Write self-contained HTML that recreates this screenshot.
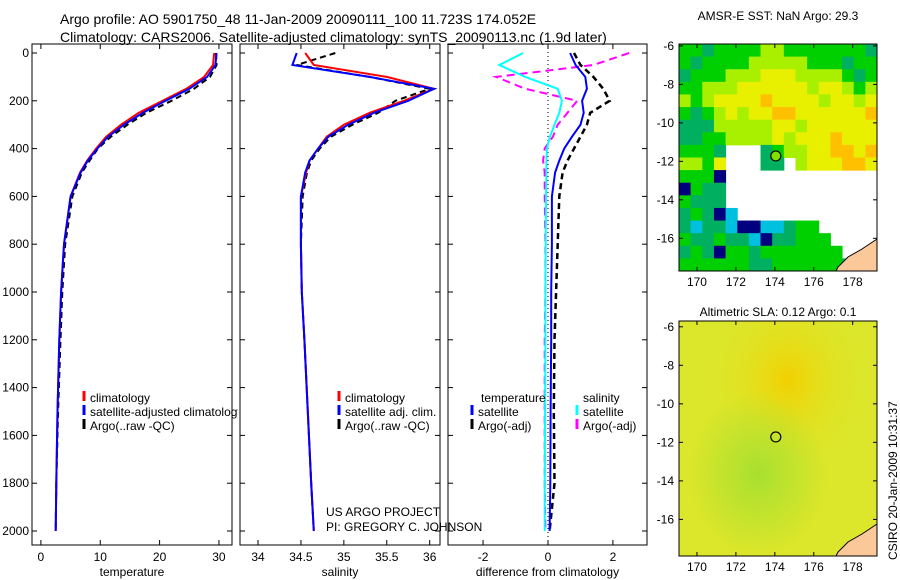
<!DOCTYPE html>
<html><head><meta charset="utf-8"><style>
body{margin:0;background:#fff;}
svg{display:block;font-family:"Liberation Sans",Arial,sans-serif;}
</style></head><body>
<svg id="fig" width="900" height="580" viewBox="0 0 900 580">
<rect width="900" height="580" fill="#fff"/>
<text x="60" y="24" font-size="14">Argo profile: AO 5901750_48 11-Jan-2009 20090111_100 11.723S 174.052E</text>
<text x="60" y="42" font-size="14">Climatology: CARS2006. Satellite-adjusted climatology: synTS_20090113.nc (1.9d later)</text>
<text x="778" y="20" font-size="12" text-anchor="middle">AMSR-E SST: NaN Argo: 29.3</text>
<text x="778" y="316" font-size="12" text-anchor="middle">Altimetric SLA: 0.12 Argo: 0.1</text>
<text transform="translate(897,560) rotate(-90)" font-size="12">CSIRO 20-Jan-2009 10:31:37</text>
<g id="plots"></g>
</svg>
<script>
// ---- profile data (depth in m) ----
const depths = [0,50,100,150,200,250,300,350,400,450,500,600,800,1000,1200,1500,1800,2000];
const tempClim = [29.2,29.0,27.5,24.5,20.5,16.5,13.5,11.0,9.3,7.8,6.6,5.0,3.9,3.4,3.1,2.8,2.6,2.5];
const tempSat  = [29.6,29.4,28.0,25.0,21.0,17.2,14.0,11.3,9.5,7.9,6.7,5.0,3.9,3.4,3.1,2.8,2.6,2.5];
const tempArgo = [29.5,29.6,28.5,25.8,22.0,17.8,14.6,11.8,9.6,8.2,6.9,5.3,4.1,3.6,3.3,2.9,2.6,2.5];
const salClim = [34.55,34.65,35.5,36.05,35.7,35.3,35.0,34.8,34.7,34.6,34.56,34.5,34.5,34.51,34.54,34.58,34.62,34.65];
const salSat  = [34.45,34.4,35.3,36.05,35.75,35.35,35.05,34.82,34.7,34.6,34.55,34.5,34.5,34.51,34.54,34.58,34.62,34.65];
const salArgo = [34.9,34.45,35.3,36.0,35.6,35.4,35.1,34.85,34.72,34.62,34.57,34.52,34.5,34.51,34.54,34.58,34.62,34.65];
const dTempSat  = [0.68,0.85,1.15,1.2,1.05,1.1,1.0,0.74,0.5,0.35,0.22,0.12,0.12,0.1,0.1,0.08,0.07,0.05];
const dTempArgo = [0.8,1.0,1.4,1.7,1.9,1.3,1.2,1.0,0.8,0.6,0.45,0.35,0.3,0.25,0.2,0.18,0.2,0.05];
const dSalSat   = [-0.77,-1.5,-0.7,0.3,0.43,0.35,0.2,0.06,-0.03,-0.05,-0.05,-0.06,-0.07,-0.08,-0.08,-0.09,-0.1,-0.1];
const dSalArgo  = [2.5,1.4,-1.6,-0.7,0.9,0.6,0.3,0.15,-0.1,-0.15,-0.1,-0.1,-0.08,-0.08,-0.1,-0.1,-0.1,-0.08];
const depthTicks = [0,200,400,600,800,1000,1200,1400,1600,1800,2000];
const tempTicks = [0,10,20,30];
const salTicks = [34,34.5,35,35.5,36];
const diffTicks = [-2,0,2];
// SST map grid (rows top->bottom, '.' missing, 0 darkblue .. 6 orange)
const sstRows = [
"33233334433333332",
"32333344444333233",
"23334445554444323",
"33444555555455434",
"43455556555545545",
"32345455665555556",
"22244444554555555",
"22334444545556555",
"3332...2344556656",
"4435...22.4555665",
"3330.............",
"0322.............",
"3222.............",
"23201............",
"212210011233.....",
"3223221022333....",
"23203323333333...",
"333333223333332.."];
const sstColors = ["#00007f","#00c0e0","#00b060","#00d000","#a8f000","#e8f000","#ffc000"];
const floatLon = 174.05, floatLat = -11.72;
const lonTicks = [170,172,174,176,178];
const latTicks = [-6,-8,-10,-12,-14,-16];

const NS="http://www.w3.org/2000/svg";
const root=document.getElementById('plots');
function el(tag,attrs,parent){const e=document.createElementNS(NS,tag);for(const k in attrs)e.setAttribute(k,attrs[k]);(parent||root).appendChild(e);return e;}

function linScale(d0,d1,r0,r1){return v=>r0+(v-d0)*(r1-r0)/(d1-d0);}
const yDepth=linScale(0,2000,53,531);

function panel(name,x0,x1,xmin,xmax,xticks,xlabel,labelY){
  const sx=linScale(xmin,xmax,x0,x1);
  const g=el('g',{});
  
  
  const b=el('rect',{x:x0,y:44,width:x1-x0,height:501,fill:'none',stroke:'#000','stroke-width':1},g);
  
  
  xticks.forEach(t=>{const x=sx(t);
    el('line',{x1:x,x2:x,y1:545,y2:540,stroke:'#000'},g);
    el('line',{x1:x,x2:x,y1:44,y2:49,stroke:'#000'},g);
    const tx=el('text',{x:x,y:561,'font-size':12,'text-anchor':'middle'},g);tx.textContent=t;
    
    });
  depthTicks.forEach(d=>{const y=yDepth(d);
    el('line',{x1:x0,x2:x0+5,y1:y,y2:y,stroke:'#000'},g);
    el('line',{x1:x1,x2:x1-5,y1:y,y2:y,stroke:'#000'},g);
    if(labelY){const tx=el('text',{x:x0-3,y:y+4,'font-size':12,'text-anchor':'end'},g);tx.textContent=d;
      
      }});
  const xl=el('text',{x:(x0+x1)/2,y:576,'font-size':12,'text-anchor':'middle'},g);xl.textContent=xlabel;
  
  
  return {sx,g};
}
function series(p,vals,color,dash,w,name){
  const pts=vals.map((v,i)=>p.sx(v).toFixed(1)+','+yDepth(depths[i]).toFixed(1)).join(' ');
  const pl=el('polyline',{points:pts,fill:'none',stroke:color,'stroke-width':w,'stroke-dasharray':dash||'none'},p.g);
  
  
}
function legendEntry(g,x,y,color,label,name){
  el('line',{x1:x,x2:x,y1:y-11,y2:y-1,stroke:color,'stroke-width':3},g);
  const t=el('text',{x:x+6,y:y,'font-size':12},g);t.textContent=label;
  
  
}

// Panel 1
const p1=panel('temperature-panel',32,232,-1.5,32.2,tempTicks,'temperature',true);
series(p1,tempArgo,'#000','6,4',2,'argo-temperature-line');
series(p1,tempClim,'#f00','',2,'climatology-temperature-line');
series(p1,tempSat,'#00f','',2,'satellite-temperature-line');
const lg1=el('svg',{x:0,y:0,width:238,height:580,overflow:'hidden'},p1.g);
legendEntry(lg1,84,402,'#f00','climatology','legend-climatology');
legendEntry(lg1,84,416,'#00f','satellite-adjusted climatology','legend-satellite');
legendEntry(lg1,84,430,'#000','Argo(..raw -QC)','legend-argo');

// Panel 2
const p2=panel('salinity-panel',240,440,33.79,36.12,salTicks,'salinity',false);
series(p2,salArgo,'#000','6,4',2,'argo-salinity-line');
series(p2,salClim,'#f00','',2,'climatology-salinity-line');
series(p2,salSat,'#00f','',2,'satellite-salinity-line');
legendEntry(p2.g,339,402,'#f00','climatology','legend-climatology');
legendEntry(p2.g,339,416,'#00f','satellite adj. clim.','legend-satellite');
legendEntry(p2.g,339,430,'#000','Argo(..raw -QC)','legend-argo');
[['US ARGO PROJECT',516],['PI: GREGORY C. JOHNSON',531]].forEach(([s,y])=>{const t=el('text',{x:326,y:y,'font-size':12},p2.g);t.textContent=s;
  
  });

// Panel 3
const p3=panel('difference-panel',448,647,-3.08,3.05,diffTicks,'difference from climatology',false);
el('line',{x1:p3.sx(0),x2:p3.sx(0),y1:44,y2:545,stroke:'#000','stroke-dasharray':'1,3'},p3.g);
series(p3,dSalArgo,'#f0f','8,5',2,'argo-salinity-diff-line');
series(p3,dTempArgo,'#000','6,4',2.5,'argo-temperature-diff-line');
series(p3,dSalSat,'#0ff','',2,'satellite-salinity-diff-line');
series(p3,dTempSat,'#00f','',2,'satellite-temperature-diff-line');
[['temperature',481],['salinity',583]].forEach(([s,x])=>{const t=el('text',{x:x,y:402,'font-size':12},p3.g);t.textContent=s;
  
  });
legendEntry(p3.g,472,416,'#00f','satellite','legend-temp-satellite');
legendEntry(p3.g,472,430,'#000','Argo(-adj)','legend-temp-argo');
legendEntry(p3.g,577,416,'#0ff','satellite','legend-sal-satellite');
legendEntry(p3.g,577,430,'#f0f','Argo(-adj)','legend-sal-argo');

// Maps
function mapFrame(name,top,bottom,latTop,latBot){
  const sx=linScale(169,179.3,677.5,878);
  const sy=linScale(latTop,latBot,top,bottom);
  const g=el('g',{});
  
  
  return {sx,sy,g,top,bottom};
}
function mapAxes(m){
  const b=el('rect',{x:679,y:m.top,width:198,height:m.bottom-m.top,fill:'none',stroke:'#000'},m.g);
  
  
  lonTicks.forEach(l=>{const x=m.sx(l);
    el('line',{x1:x,x2:x,y1:m.bottom,y2:m.bottom-4,stroke:'#000'},m.g);
    el('line',{x1:x,x2:x,y1:m.top,y2:m.top+4,stroke:'#000'},m.g);
    const t=el('text',{x:x,y:m.bottom+15,'font-size':12,'text-anchor':'middle'},m.g);t.textContent=l;
    
    });
  latTicks.forEach(l=>{const y=m.sy(l);
    el('line',{x1:679,x2:683,y1:y,y2:y,stroke:'#000'},m.g);
    el('line',{x1:877,x2:873,y1:y,y2:y,stroke:'#000'},m.g);
    const t=el('text',{x:674,y:y+4,'font-size':12,'text-anchor':'end'},m.g);t.textContent=l;
    
    });
  const land=el('path',{d:`M 877 ${m.bottom-32} L 862 ${m.bottom-22} L 848 ${m.bottom-14} L 838 ${m.bottom-4} L 836 ${m.bottom} L 877 ${m.bottom} Z`,fill:'#fbc89a',stroke:'#000','stroke-width':1},m.g);
  
  
  const c=el('circle',{cx:m.sx(floatLon),cy:m.sy(floatLat),r:5,fill:'none',stroke:'#000','stroke-width':1.2},m.g);
  
  
}
// SST map
const m1=mapFrame('sst-map',44,271,-5.9,-17.7);
const nC=sstRows[0].length,nR=sstRows.length;
const cw=198/nC,ch=227/nR;
sstRows.forEach((row,r)=>{for(let c=0;c<nC;c++){const ch0=row[c];if(ch0==='.'||ch0===undefined)continue;
  const cell=el('rect',{x:679+c*cw,y:44+r*ch,width:cw+0.5,height:ch+0.5,fill:sstColors[+ch0]},m1.g);
  
  }});
el('circle',{cx:m1.sx(floatLon),cy:m1.sy(floatLat),r:5,fill:'#80e000'},m1.g);
mapAxes(m1);
// SLA map
const m2=mapFrame('sla-map',321,556,-5.7,-17.9);
const defs=el('defs',{});
defs.innerHTML='<radialGradient id="ga" cx="0.55" cy="0.25" r="0.4"><stop offset="0" stop-color="#f2d000"/><stop offset="1" stop-color="#e0e628" stop-opacity="0"/></radialGradient><radialGradient id="gb" cx="0.4" cy="0.65" r="0.35"><stop offset="0" stop-color="#a8e030"/><stop offset="1" stop-color="#a8e030" stop-opacity="0"/></radialGradient>';
const bg=el('rect',{x:679,y:321,width:198,height:235,fill:'#dce62a'},m2.g);


el('rect',{x:679,y:321,width:198,height:235,fill:'url(#ga)'},m2.g);
el('rect',{x:679,y:321,width:198,height:235,fill:'url(#gb)'},m2.g);
mapAxes(m2);
</script>
</body></html>
